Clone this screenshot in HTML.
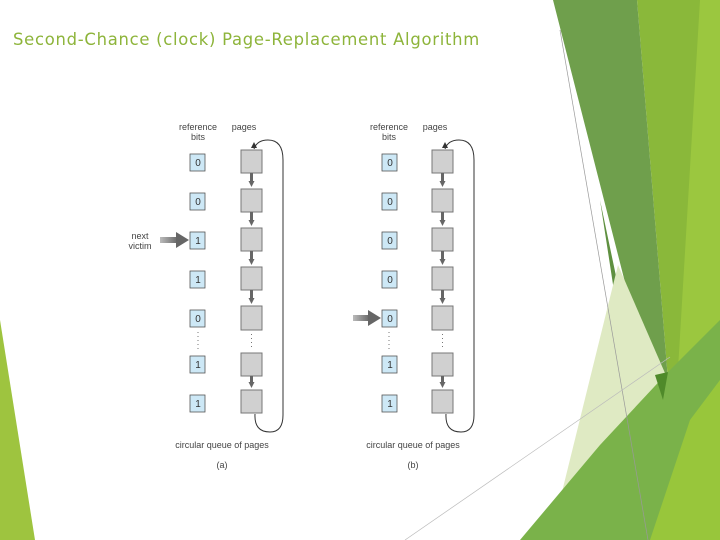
<!DOCTYPE html>
<html><head><meta charset="utf-8"><style>
html,body{margin:0;padding:0;background:#fff;width:720px;height:540px;overflow:hidden}
svg{display:block}
</style></head><body>
<svg width="720" height="540" viewBox="0 0 720 540" xmlns="http://www.w3.org/2000/svg" font-family="Liberation Sans, sans-serif">
<defs>
<marker id="ah" markerWidth="6" markerHeight="6" refX="3" refY="3" orient="auto" markerUnits="userSpaceOnUse"><path d="M0,0 L6,3 L0,6 Z" fill="#666"/></marker>
<linearGradient id="ga" x1="0" x2="1"><stop offset="0" stop-color="#bbb"/><stop offset="1" stop-color="#666"/></linearGradient>
<g id="dg">
  <text x="198" y="130" font-size="9" fill="#444" text-anchor="middle">reference</text>
  <text x="198" y="140" font-size="9" fill="#444" text-anchor="middle">bits</text>
  <text x="244" y="130" font-size="9" fill="#444" text-anchor="middle">pages</text>
  <!-- page boxes -->
  <g fill="#d0d0d0" stroke="#777" stroke-width="1">
    <rect x="241" y="150" width="21" height="23"/>
    <rect x="241" y="189" width="21" height="23"/>
    <rect x="241" y="228" width="21" height="23"/>
    <rect x="241" y="267" width="21" height="23"/>
    <rect x="241" y="306" width="21" height="24"/>
    <rect x="241" y="353" width="21" height="23"/>
    <rect x="241" y="390" width="21" height="23"/>
  </g>
  <g stroke="#666" stroke-width="3" marker-end="url(#ah)">
    <line x1="251.5" y1="173" x2="251.5" y2="184"/>
    <line x1="251.5" y1="212" x2="251.5" y2="223"/>
    <line x1="251.5" y1="251" x2="251.5" y2="262"/>
    <line x1="251.5" y1="290" x2="251.5" y2="301"/>
    <line x1="251.5" y1="376" x2="251.5" y2="385"/>
  </g>
  <line x1="251.5" y1="334" x2="251.5" y2="349" stroke="#777" stroke-dasharray="1,3"/>
  <line x1="198" y1="332" x2="198" y2="352" stroke="#777" stroke-dasharray="1,3"/>
  <!-- loop -->
  <path d="M255,414 Q254,432 270,432 Q283,432 283,415 L283,160 Q283,140 268,140 Q257,140 254,149" fill="none" stroke="#333" stroke-width="1"/>
  <path d="M251,148 l3,-6 l3,6 z" fill="#333"/>
  <text x="222" y="448" font-size="9" fill="#444" text-anchor="middle">circular queue of pages</text>
</g>
<g id="bx" fill="#cde8f6" stroke="#555" stroke-width="0.8">
</g>
</defs>

<!-- background shapes -->
<polygon points="0,320 35,540 0,540" fill="#9ec43f"/>
<polygon points="637,0 705,0 690,410 668,380" fill="#8ab83a"/>
<polygon points="700,0 720,0 720,540 650,540 675,420" fill="#9bc73f"/>
<polygon points="553,0 637,0 668,380 672,410 655,400" fill="#6f9f4c"/>
<polygon points="600,200 620,330 655,395 640,390" fill="#5f9040"/>
<polygon points="560,500 618,265 668,380 610,450" fill="#dfeac3"/>
<polygon points="520,540 600,445 668,372 720,320 720,540" fill="#7ab24a"/>
<polygon points="650,540 690,420 720,380 720,540" fill="#98c63b"/>
<polygon points="655,375 668,372 663,400" fill="#4f8a2a"/>
<line x1="560" y1="30" x2="648" y2="540" stroke="#999" stroke-width="0.7"/>
<line x1="405" y1="540" x2="670" y2="357" stroke="#bbb" stroke-width="0.7"/>

<text x="13" y="45" font-size="17" fill="#8db43a" letter-spacing="0.75" font-family="DejaVu Sans, Liberation Sans, sans-serif" textLength="467" lengthAdjust="spacingAndGlyphs">Second-Chance (clock) Page-Replacement Algorithm</text>

<!-- diagram a -->
<use href="#dg"/>
<g fill="#cde8f6" stroke="#555" stroke-width="0.8">
  <rect x="190" y="154" width="15" height="17"/><rect x="190" y="193" width="15" height="17"/>
  <rect x="190" y="232" width="15" height="17"/><rect x="190" y="271" width="15" height="17"/>
  <rect x="190" y="310" width="15" height="17"/><rect x="190" y="356" width="15" height="17"/>
  <rect x="190" y="395" width="15" height="17"/>
</g>
<g font-size="10" fill="#333" text-anchor="middle">
  <text x="198" y="166">0</text><text x="198" y="205">0</text><text x="198" y="244">1</text>
  <text x="198" y="283">1</text><text x="198" y="322">0</text><text x="198" y="368">1</text><text x="198" y="407">1</text>
</g>
<text x="140" y="239" font-size="9" fill="#444" text-anchor="middle">next</text>
<text x="140" y="249" font-size="9" fill="#444" text-anchor="middle">victim</text>
<rect x="160" y="237" width="18" height="6" fill="url(#ga)"/>
<path d="M176,232 L189,240 L176,248 Z" fill="#666"/>
<text x="222" y="468" font-size="9" fill="#444" text-anchor="middle">(a)</text>

<!-- diagram b -->
<use href="#dg" transform="translate(191,0)"/>
<g fill="#cde8f6" stroke="#555" stroke-width="0.8">
  <rect x="382" y="154" width="15" height="17"/><rect x="382" y="193" width="15" height="17"/>
  <rect x="382" y="232" width="15" height="17"/><rect x="382" y="271" width="15" height="17"/>
  <rect x="382" y="310" width="15" height="17"/><rect x="382" y="356" width="15" height="17"/>
  <rect x="382" y="395" width="15" height="17"/>
</g>
<g font-size="10" fill="#333" text-anchor="middle">
  <text x="390" y="166">0</text><text x="390" y="205">0</text><text x="390" y="244">0</text>
  <text x="390" y="283">0</text><text x="390" y="322">0</text><text x="390" y="368">1</text><text x="390" y="407">1</text>
</g>
<rect x="353" y="315" width="17" height="6" fill="url(#ga)"/>
<path d="M368,310 L381,318 L368,326 Z" fill="#666"/>
<text x="413" y="468" font-size="9" fill="#444" text-anchor="middle">(b)</text>
</svg>
</body></html>
